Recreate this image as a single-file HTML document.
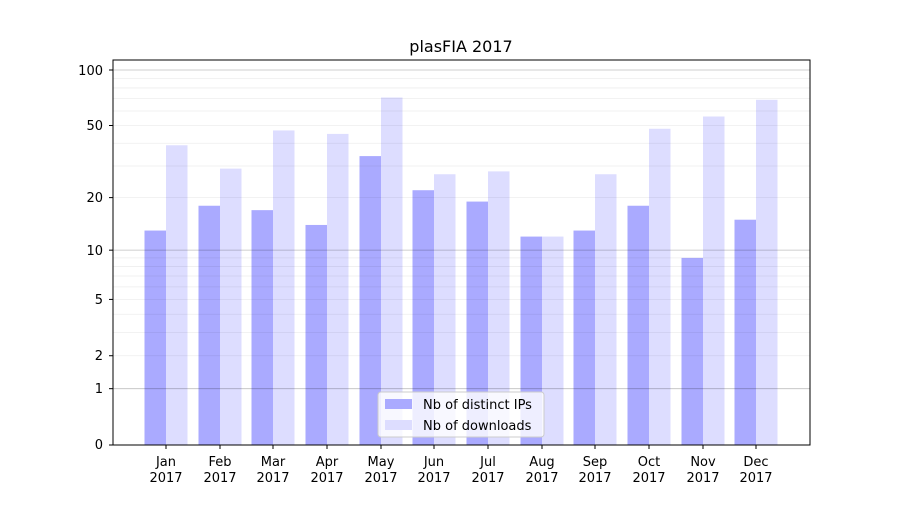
<!DOCTYPE html>
<html><head><meta charset="utf-8"><style>
body{margin:0;background:#fff}
svg text{font-family:"DejaVu Sans","Liberation Sans",sans-serif;font-size:13px;fill:#000}
</style></head><body>
<svg id="s" width="900" height="500" viewBox="0 0 900 500">
<rect width="900" height="500" fill="#fff"/>
<g id="bars"></g>
<g id="grid"></g>
<rect x="113" y="60" width="697" height="385" fill="none" stroke="#000" stroke-width="1"/>
<text x="461" y="52" text-anchor="middle" style="font-size:16px">plasFIA 2017</text>
<g text-anchor="end">
<text x="103" y="449">0</text>
<text x="103" y="393">1</text>
<text x="103" y="360">2</text>
<text x="103" y="304">5</text>
<text x="103" y="255">10</text>
<text x="103" y="202">20</text>
<text x="103" y="130">50</text>
<text x="103" y="75">100</text>
</g>
<g text-anchor="middle" id="xl">
<text x="166" y="466">Jan</text><text x="166" y="482">2017</text>
<text x="220" y="466">Feb</text><text x="220" y="482">2017</text>
<text x="273" y="466">Mar</text><text x="273" y="482">2017</text>
<text x="327" y="466">Apr</text><text x="327" y="482">2017</text>
<text x="381" y="466">May</text><text x="381" y="482">2017</text>
<text x="434" y="466">Jun</text><text x="434" y="482">2017</text>
<text x="488" y="466">Jul</text><text x="488" y="482">2017</text>
<text x="542" y="466">Aug</text><text x="542" y="482">2017</text>
<text x="595" y="466">Sep</text><text x="595" y="482">2017</text>
<text x="649" y="466">Oct</text><text x="649" y="482">2017</text>
<text x="703" y="466">Nov</text><text x="703" y="482">2017</text>
<text x="756" y="466">Dec</text><text x="756" y="482">2017</text>
</g>
<g id="ticks"></g>
<rect x="378" y="392" width="166" height="45" rx="3" fill="#fff" fill-opacity="0.8" stroke="#ccc"/>
<rect x="385" y="399" width="27" height="10" fill="#aaaaff"/>
<rect x="385" y="420" width="27" height="10" fill="#ddddff"/>
<text x="423" y="409">Nb of distinct IPs</text>
<text x="423" y="430">Nb of downloads</text>
</svg>
<script>
const ns="http://www.w3.org/2000/svg";
function Y(v){return 445-187.1*Math.log10(v+1);}
function el(p,t,a){const e=document.createElementNS(ns,t);for(const k in a)e.setAttribute(k,a[k]);document.getElementById(p).appendChild(e);}
const minor=[2,3,4,5,6,7,8,9,20,30,40,50,60,70,80,90];
minor.forEach(v=>el('grid','line',{x1:113,x2:810,y1:Y(v),y2:Y(v),stroke:'#000','stroke-opacity':0.07,'stroke-width':0.8}));
[1,10,100].forEach(v=>el('grid','line',{x1:113,x2:810,y1:Y(v),y2:Y(v),stroke:'#000','stroke-opacity':0.25,'stroke-width':0.8}));
[0,1,2,5,10,20,50,100].forEach(v=>el('ticks','line',{x1:109,x2:113,y1:Y(v),y2:Y(v),stroke:'#000'}));
const c=[166,220,273,327,381,434,488,542,595,649,703,756];
const a=[13,18,17,14,34,22,19,12,13,18,9,15];
const b=[39,29,47,45,71,27,28,12,27,48,56,69];
c.forEach((x,i)=>{
 el('bars','rect',{x:x-21.5,y:Y(a[i]),width:21.5,height:445-Y(a[i]),fill:'#aaaaff'});
 el('bars','rect',{x:x,y:Y(b[i]),width:21.5,height:445-Y(b[i]),fill:'#ddddff'});
 el('ticks','line',{x1:x,x2:x,y1:445,y2:449,stroke:'#000'});
});
</script>
</body></html>
